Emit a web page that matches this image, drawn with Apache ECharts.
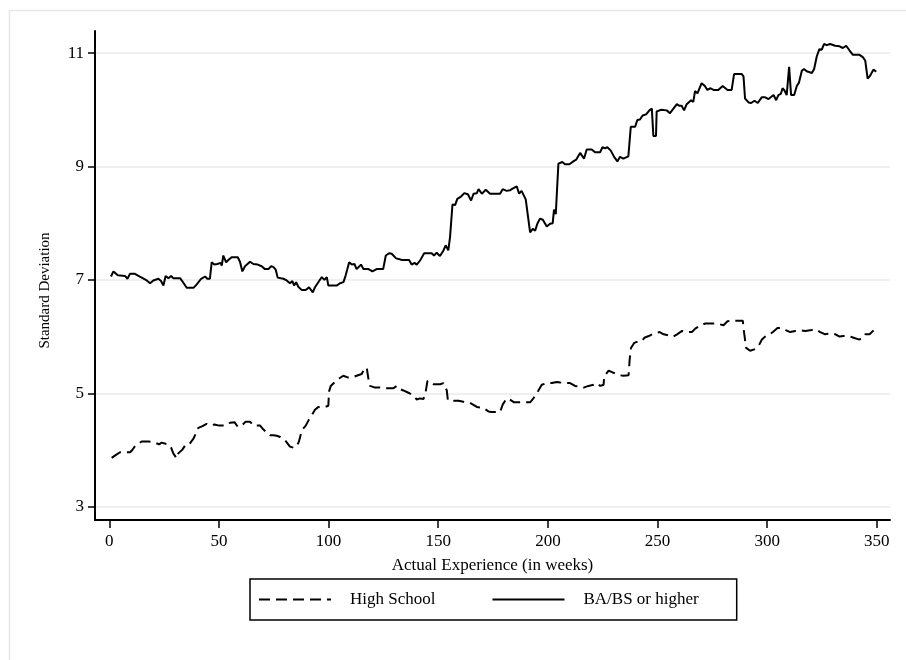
<!DOCTYPE html>
<html><head><meta charset="utf-8">
<script src="https://cdn.jsdelivr.net/npm/echarts@6/dist/echarts.min.js"></script>
<style>html,body{margin:0;padding:0;background:#fff}#c{width:906px;height:660px}</style>
</head><body><div id="c"></div>
<script>
const seriesNames = ['High School', 'BA/BS or higher'];
const xTicks = [0, 50, 100, 150, 200, 250, 300, 350];
const yTicks = [3, 5, 7, 9, 11];
const xTitle = 'Actual Experience (in weeks)';
const yTitle = 'Standard Deviation';

// High School: [week, standard deviation]
const hsData = [[1.1,3.86],[2.9,3.91],[4.9,3.96],[6.4,3.96],[9.5,3.96],[10.5,4.00],[11.8,4.07],[14.8,4.15],[17.8,4.15],[19.4,4.14],[20.6,4.13],[22.7,4.10],[23.9,4.13],[25.7,4.11],[27.0,4.10],[28.2,4.04],[29.2,3.94],[30.8,3.85],[31.5,3.94],[33.4,4.01],[34.6,4.08],[36.1,4.08],[38.4,4.20],[39.1,4.26],[40.6,4.39],[42.5,4.42],[44.4,4.46],[46.0,4.43],[48.0,4.45],[50.1,4.43],[53.1,4.43],[55.1,4.48],[57.1,4.49],[58.6,4.41],[60.4,4.43],[62.2,4.50],[64.2,4.50],[65.7,4.43],[68.8,4.43],[70.3,4.36],[73.3,4.26],[74.8,4.26],[76.4,4.25],[77.9,4.23],[80.2,4.17],[82.4,4.06],[84.0,4.04],[85.5,4.06],[86.5,4.15],[87.8,4.35],[89.6,4.43],[91.1,4.54],[92.3,4.61],[93.8,4.71],[95.4,4.76],[98.4,4.76],[99.9,4.78],[100.2,5.03],[101.0,5.13],[102.9,5.20],[104.8,5.26],[106.7,5.31],[108.7,5.28],[110.9,5.28],[112.8,5.31],[115.1,5.34],[116.4,5.44],[117.4,5.45],[118.2,5.25],[118.9,5.13],[121.2,5.10],[123.5,5.10],[125.8,5.09],[127.3,5.09],[129.6,5.09],[131.1,5.13],[132.2,5.08],[134.1,5.05],[136.4,5.01],[138.7,4.96],[140.2,4.89],[141.7,4.91],[143.3,4.90],[144.3,5.03],[145.1,5.22],[147.8,5.16],[150.9,5.16],[152.4,5.18],[153.9,5.05],[154.4,4.88],[157.0,4.87],[159.2,4.87],[161.5,4.85],[164.5,4.83],[167.6,4.76],[170.6,4.74],[172.9,4.68],
[174.4,4.67],[178.2,4.67],[179.4,4.80],[181.2,4.91],[182.7,4.89],[184.6,4.84],[188.1,4.84],[191.9,4.84],[193.4,4.91],[195.7,5.05],[197.2,5.15],[199.5,5.18],[201.8,5.18],[204.1,5.20],[205.6,5.19],[207.9,5.18],[210.1,5.18],[212.4,5.13],[214.0,5.12],[216.3,5.10],[218.5,5.13],[220.8,5.15],[222.4,5.18],[223.9,5.13],[225.4,5.15],[225.7,5.30],[227.7,5.40],[230.0,5.36],[232.2,5.32],[234.5,5.31],[236.8,5.32],[237.3,5.60],[237.9,5.80],[239.4,5.89],[241.4,5.92],[242.9,5.92],[244.0,5.98],[246.0,6.01],[247.5,6.04],[248.2,6.01],[251.0,6.08],[252.8,6.04],[255.1,6.02],[257.1,6.00],[258.9,6.04],[261.2,6.10],[263.4,6.08],[265.7,6.08],[267.2,6.14],[269.5,6.20],[271.8,6.23],[274.8,6.23],[277.1,6.23],[280.1,6.20],[281.9,6.27],[283.9,6.28],[286.9,6.28],[288.9,6.28],[289.2,6.15],[290.4,5.80],[292.2,5.75],[294.5,5.78],[296.0,5.83],[297.6,5.95],[299.1,6.00],[300.6,6.02],[302.6,6.08],[304.7,6.15],[306.7,6.15],[308.7,6.11],[310.5,6.08],[312.8,6.10],[315.1,6.11],[317.4,6.10],[319.6,6.11],[321.9,6.13],[324.2,6.08],[326.5,6.04],[328.8,6.06],[331.1,6.04],[333.0,6.00],[334.8,6.01],[337.1,6.01],[339.4,5.98],[341.7,5.95],[343.2,5.96],[344.7,6.04],[346.7,6.04],[348.5,6.11]];

// BA/BS or higher: [week, standard deviation]
const baData = [[0.8,7.06],[1.9,7.15],[3.9,7.08],[7.2,7.07],[8.3,7.02],[9.5,7.11],[11.5,7.11],[13.3,7.07],[14.8,7.04],[17.1,6.99],[18.6,6.94],[20.1,6.99],[22.4,7.02],[23.6,6.98],[24.7,6.90],[25.7,7.07],[27.0,7.03],[28.2,7.07],[29.2,7.03],[32.3,7.03],[33.8,6.95],[35.3,6.86],[38.4,6.86],[39.9,6.92],[41.9,7.02],[43.7,7.06],[44.7,7.02],[45.9,7.02],[46.7,7.31],[47.9,7.27],[49.3,7.28],[50.8,7.30],[51.3,7.25],[52.0,7.43],[53.3,7.31],[54.3,7.35],[55.8,7.40],[58.6,7.40],[59.6,7.32],[60.7,7.15],[61.9,7.24],[64.2,7.32],[65.7,7.28],[67.7,7.27],[69.5,7.24],[71.0,7.19],[72.6,7.19],[73.8,7.24],[74.8,7.23],[75.9,7.18],[76.8,7.04],[79.4,7.02],[80.9,6.99],[82.4,6.94],[83.5,6.98],[84.3,6.90],[85.2,6.96],[86.2,6.88],[87.8,6.82],[89.6,6.82],[91.1,6.87],[92.8,6.78],[93.8,6.87],[95.7,6.98],[96.9,7.05],[98.1,7.00],[99.2,7.05],[99.9,6.90],[103.7,6.90],[105.2,6.94],[106.8,6.96],[107.8,7.08],[108.6,7.11],[109.4,7.31],[110.6,7.27],[111.8,7.28],[112.8,7.19],[114.8,7.27],[115.9,7.19],[118.2,7.19],[120.0,7.15],[121.9,7.19],[124.9,7.19],[126.1,7.43],[127.6,7.47],[128.8,7.46],[130.8,7.38],[131.9,7.37],[132.6,7.40],[133.4,7.35],[136.7,7.35],[137.9,7.27],[139.2,7.30],[140.2,7.27],[141.7,7.34],[143.6,7.47],[147.0,7.47],[148.1,7.43],[149.3,7.48],[150.8,7.42],[152.4,7.52],[153.4,7.61],[154.6,7.52],[155.4,7.76],[156.5,8.33],[157.7,8.32],[158.7,8.43],[160.4,8.47],[161.9,8.53],[163.5,8.51],[165.0,8.40],[166.1,8.52],[167.6,8.53],[168.4,8.60],[169.9,8.52],[171.7,8.59],
[173.6,8.52],[178.2,8.52],[179.4,8.60],[181.2,8.57],[182.7,8.58],[183.9,8.61],[184.7,8.58],[185.8,8.65],[186.9,8.52],[188.0,8.57],[188.8,8.56],[189.9,8.42],[190.8,8.40],[191.9,7.84],[193.1,7.90],[194.2,7.87],[195.2,7.99],[196.4,8.08],[197.7,8.06],[199.5,7.94],[201.0,7.99],[202.2,8.00],[202.8,8.24],[203.6,8.16],[204.8,9.05],[206.6,9.08],[207.8,9.04],[209.8,9.04],[211.6,9.09],[212.9,9.12],[214.7,9.24],[215.4,9.24],[216.5,9.14],[217.7,9.30],[220.0,9.30],[221.5,9.25],[223.8,9.25],[224.9,9.34],[226.1,9.32],[227.1,9.34],[228.7,9.28],[230.2,9.17],[231.7,9.09],[232.9,9.17],[234.4,9.14],[235.2,9.14],[236.7,9.18],[237.8,9.70],[239.8,9.70],[240.8,9.82],[242.0,9.83],[243.2,9.90],[244.8,9.92],[246.3,9.99],[247.4,10.02],[248.1,9.54],[249.3,9.54],[249.6,9.97],[251.5,10.00],[254.2,9.99],[255.7,9.94],[258.8,10.10],[260.0,10.07],[261.0,10.07],[262.1,9.99],[263.3,10.10],[265.3,10.17],[266.3,10.14],[267.1,10.33],[268.2,10.29],[270.1,10.47],[271.6,10.42],[272.7,10.35],[274.2,10.38],[275.5,10.35],[277.7,10.35],[279.7,10.42],[281.9,10.35],[283.8,10.35],[284.9,10.63],[288.4,10.63],[289.2,10.59],[289.9,10.20],[291.5,10.13],[292.7,10.12],[294.2,10.16],[295.7,10.12],[297.5,10.22],[299.1,10.22],[300.6,10.19],[302.9,10.26],[304.1,10.17],[305.1,10.26],[306.2,10.28],[307.0,10.38],[307.9,10.34],[308.9,10.26],[310.0,10.76],[310.9,10.26],[312.3,10.26],[313.5,10.42],[314.5,10.48],[315.8,10.69],[316.8,10.72],[318.0,10.68],[320.4,10.65],[321.4,10.72],[322.6,10.94],[323.8,11.07],[324.9,11.06],[325.9,11.16],[327.2,11.14],[328.7,11.16],[331.0,11.13],[333.0,11.12],[334.5,11.09],[336.0,11.13],[337.5,11.05],[339.1,10.97],[342.1,10.97],[343.6,10.93],[344.7,10.87],[345.8,10.55],[346.9,10.60],[348.5,10.71],[349.7,10.67]];

const FONT = '"Liberation Serif", "Times New Roman", serif';
const chart = echarts.init(document.getElementById('c'), null, {renderer: 'canvas'});
chart.setOption({
  animation: false,
  backgroundColor: '#ffffff',
  graphic: [{
    type: 'rect', left: 7, top: 8, silent: true, z: -10,
    shape: {x: 0, y: 0, width: 1000, height: 1000},
    style: {fill: 'none', stroke: '#e6e6e6', lineWidth: 1.5}
  }],
  grid: {left: 95, right: 16, top: 31, bottom: 140, containLabel: false},
  legend: {
    data: seriesNames,
    left: 250, top: 579,
    orient: 'horizontal',
    padding: [12, 38, 12, 8],
    borderColor: '#000', borderWidth: 1.5,
    itemWidth: 72, itemHeight: 14, itemGap: 56,
    itemStyle: {opacity: 0},
    textStyle: {fontFamily: FONT, fontSize: 17, color: '#000', padding: [0, 0, 0, 14]}
  },
  xAxis: {
    type: 'value', min: -6.5, max: 356,
    name: xTitle, nameLocation: 'middle', nameGap: 37,
    nameTextStyle: {fontFamily: FONT, fontSize: 17, color: '#000'},
    axisLine: {show: true, onZero: false, lineStyle: {color: '#000', width: 2}},
    axisTick: {show: true, length: 8, customValues: xTicks, lineStyle: {color: '#000', width: 1.5}},
    axisLabel: {customValues: xTicks, margin: 13, fontFamily: FONT, fontSize: 17, color: '#000'},
    splitLine: {show: false}
  },
  yAxis: {
    type: 'value', min: 2.765, max: 11.39,
    name: yTitle, nameLocation: 'middle', nameGap: 42, nameRotate: 90,
    nameTextStyle: {fontFamily: FONT, fontSize: 15, color: '#000', padding: [0, 30, 0, 0]},
    axisLine: {show: true, onZero: false, lineStyle: {color: '#000', width: 2}},
    axisTick: {show: true, length: 7, customValues: yTicks, lineStyle: {color: '#000', width: 1.5}},
    axisLabel: {customValues: yTicks, margin: 11, fontFamily: FONT, fontSize: 17, color: '#000'},
    splitLine: {show: true, lineStyle: {color: '#eaeaea', width: 1.5}}
  },
  series: [
    {name: seriesNames[0], type: 'line', data: hsData, symbol: 'none', z: 3,
     lineStyle: {color: '#000', width: 2, type: [11, 6]}, itemStyle: {color: '#000'}},
    {name: seriesNames[1], type: 'line', data: baData, symbol: 'none', z: 3,
     lineStyle: {color: '#000', width: 2, type: 'solid'}, itemStyle: {color: '#000'}}
  ]
});
</script></body></html>
